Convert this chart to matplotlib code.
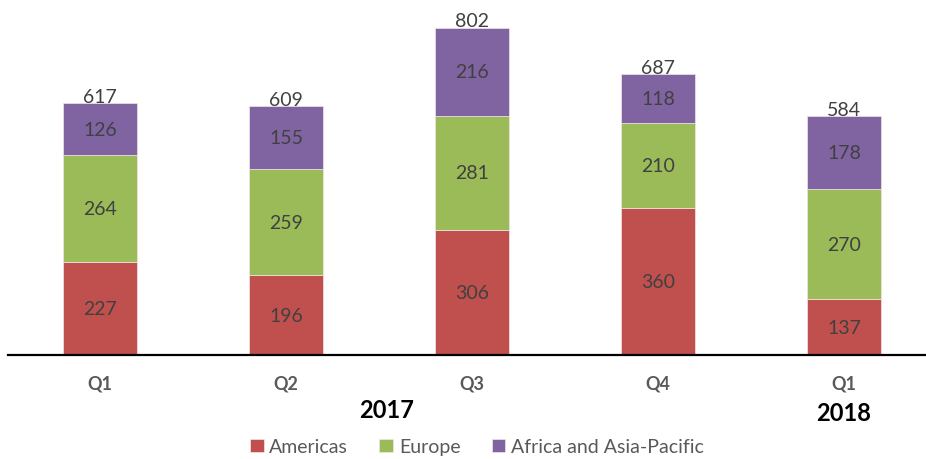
import numpy as np
from matplotlib import pyplot as plt

# Data
quarters = ['Q1', 'Q2', 'Q3', 'Q4', 'Q1']
years = ['2017', '2018']
americas = [227, 196, 306, 360, 137]
europe = [264, 259, 281, 210, 270]
africa_apac = [126, 155, 216, 118, 178]
totals = [617, 609, 802, 687, 584]
series_names = ['Americas', 'Europe', 'Africa and Asia-Pacific']
colors = ['#C0504D', '#9BBB59', '#8064A2']

plt.rcParams['font.family'] = ['Lato', 'DejaVu Sans']

fig = plt.figure(figsize=(9.26, 4.6), dpi=100)
ax = fig.add_axes([8 / 926, 104 / 460, 918 / 926, 356 / 460])

x = np.arange(len(quarters))
width = 0.4
series = [americas, europe, africa_apac]
bottom = np.zeros(len(quarters))
for vals, name, col in zip(series, series_names, colors):
    vals = np.array(vals)
    ax.bar(x, vals, width, bottom=bottom, color=col, label=name,
           edgecolor='#f2e6e6', linewidth=0.5)
    for xi, b, v in zip(x, bottom, vals):
        ax.text(xi, b + v / 2, str(v), ha='center', va='center',
                fontsize=14, color='#404040')
    bottom = bottom + vals

# totals above bars
for xi, top, t in zip(x, bottom, totals):
    ax.text(xi, top - 4, str(t), ha='center', va='bottom',
            fontsize=14, color='#404040')

ax.set_xlim(-0.4946, 4.441)
ax.set_ylim(0, 873)
for s in ['top', 'right', 'left']:
    ax.spines[s].set_visible(False)
ax.spines['bottom'].set_linewidth(1.6)
ax.spines['bottom'].set_color('black')
ax.set_yticks([])
ax.set_xticks(x)
ax.set_xticklabels(quarters, fontsize=13, fontweight='bold', color='#595959')
ax.tick_params(axis='x', length=0, pad=14)

# year labels
ax.text(1.54, -0.12, years[0], transform=ax.get_xaxis_transform(),
        ha='center', va='top', fontsize=17, fontweight='bold', color='black')
ax.text(4, -0.13, years[1], transform=ax.get_xaxis_transform(),
        ha='center', va='top', fontsize=17, fontweight='bold', color='black')

leg = fig.legend(loc='lower center', bbox_to_anchor=(0.515, -0.03), ncol=3,
                 frameon=False, fontsize=14, handlelength=0.7,
                 handleheight=0.7, handletextpad=0.3, columnspacing=1.6)
for t in leg.get_texts():
    t.set_color('#595959')

fig.savefig('out.png', dpi=100)
